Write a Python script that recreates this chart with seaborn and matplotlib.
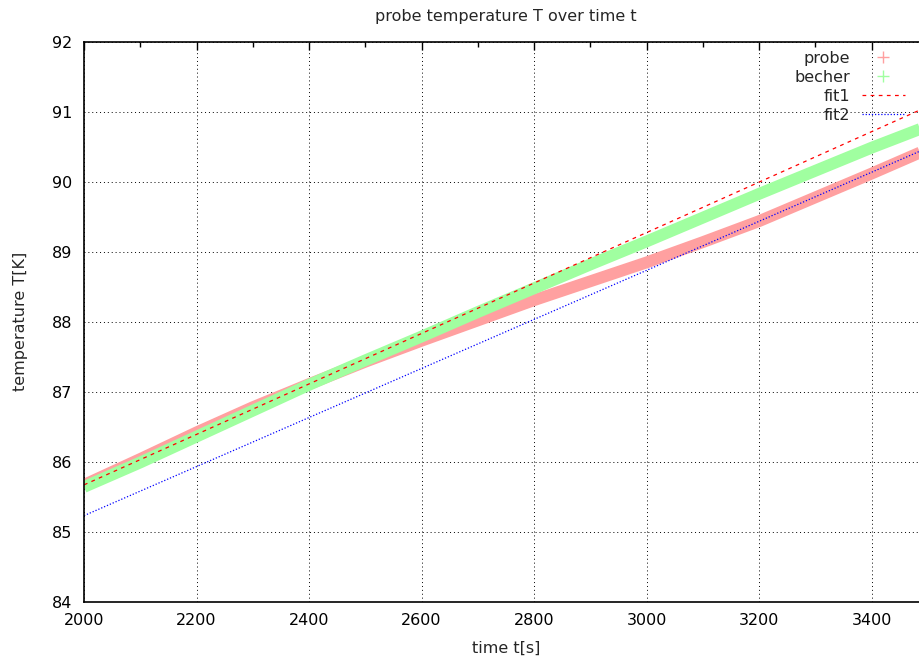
import numpy as np
import seaborn as sns
import matplotlib.pyplot as plt
from matplotlib.lines import Line2D
from matplotlib.ticker import MultipleLocator

# time axis of the readings [s]
time_s = [2000, 2100, 2200, 2300, 2400, 2500, 2600, 2700, 2800, 2900,
          3000, 3100, 3200, 3300, 3400, 3500]
# probe temperature [K]
probe = [85.67, 86.04, 86.42, 86.78, 87.11, 87.43, 87.73, 88.02, 88.31, 88.58,
         88.85, 89.14, 89.44, 89.78, 90.12, 90.47]
# becher temperature [K]
becher = [85.64, 85.99, 86.36, 86.73, 87.10, 87.45, 87.79, 88.14, 88.48, 88.82,
          89.15, 89.49, 89.83, 90.16, 90.49, 90.80]
# fitted lines, evaluated at the ends of the range
fit_t = [2000, 3500]
fit1 = [85.67, 91.08]
fit2 = [85.23, 90.49]

pink = '#ffa0a0'
light_green = '#a0ffa0'
fs = 11.5

sns.set_style("white")
plt.rcParams['font.family'] = ['DejaVu Sans']

fig = plt.figure(figsize=(9.2, 6.59), dpi=100)
ax = fig.add_axes([84 / 920, 57.3 / 659, 844 / 920, 559.7 / 659])

sns.lineplot(x=time_s, y=probe, ax=ax, color=pink, linewidth=8.5,
             solid_capstyle='butt', legend=False)
sns.lineplot(x=time_s, y=becher, ax=ax, color=light_green, linewidth=8.5,
             solid_capstyle='butt', legend=False)
sns.lineplot(x=fit_t, y=fit1, ax=ax, color='red', linewidth=0.9,
             linestyle=(0, (3, 3.5)), legend=False)
sns.lineplot(x=fit_t, y=fit2, ax=ax, color='blue', linewidth=0.9,
             linestyle=(0, (1, 1.5)), legend=False)

ax.set_xlim(2000, 3500)
ax.set_ylim(84, 92)
ax.set_xticks(np.arange(2000, 3401, 200))
ax.set_yticks(np.arange(84, 93, 1))
ax.xaxis.set_minor_locator(MultipleLocator(100))
ax.yaxis.set_minor_locator(MultipleLocator(0.2))
ax.grid(True, which='major', color='black', linewidth=0.7, linestyle=(0, (1, 3)))
ax.tick_params(which='both', direction='in', top=True, right=True,
               labelsize=fs, colors='black')
ax.tick_params(which='major', length=6, width=1)
ax.tick_params(which='minor', length=3.4, width=1)
ax.tick_params(axis='y', pad=8.5)
ax.tick_params(axis='x', pad=8)
for sp in ax.spines.values():
    sp.set_color('black')
    sp.set_linewidth(1.2)

ax.set_xlabel("time t[s]", fontsize=fs, labelpad=9)
ax.set_ylabel("temperature T[K]", fontsize=fs, labelpad=17)
ax.set_title("probe temperature T over time t", fontsize=fs, pad=15)

handles = [
    Line2D([], [], color=pink, marker='+', linestyle='none', markersize=8),
    Line2D([], [], color=light_green, marker='+', linestyle='none', markersize=8),
    Line2D([], [], color='red', linewidth=0.9, linestyle=(0, (3, 3.5))),
    Line2D([], [], color='blue', linewidth=0.9, linestyle=(0, (1, 1.5))),
]
ax.legend(handles, ['probe', 'becher', 'fit1', 'fit2'], loc='upper right',
          bbox_to_anchor=(905 / 920, 1 - 51 / 659), bbox_transform=fig.transFigure,
          frameon=False, markerfirst=False, fontsize=fs, handlelength=2.7,
          handletextpad=0.75, labelspacing=0.24, borderpad=0, borderaxespad=0)

fig.savefig("out.png", dpi=100)
